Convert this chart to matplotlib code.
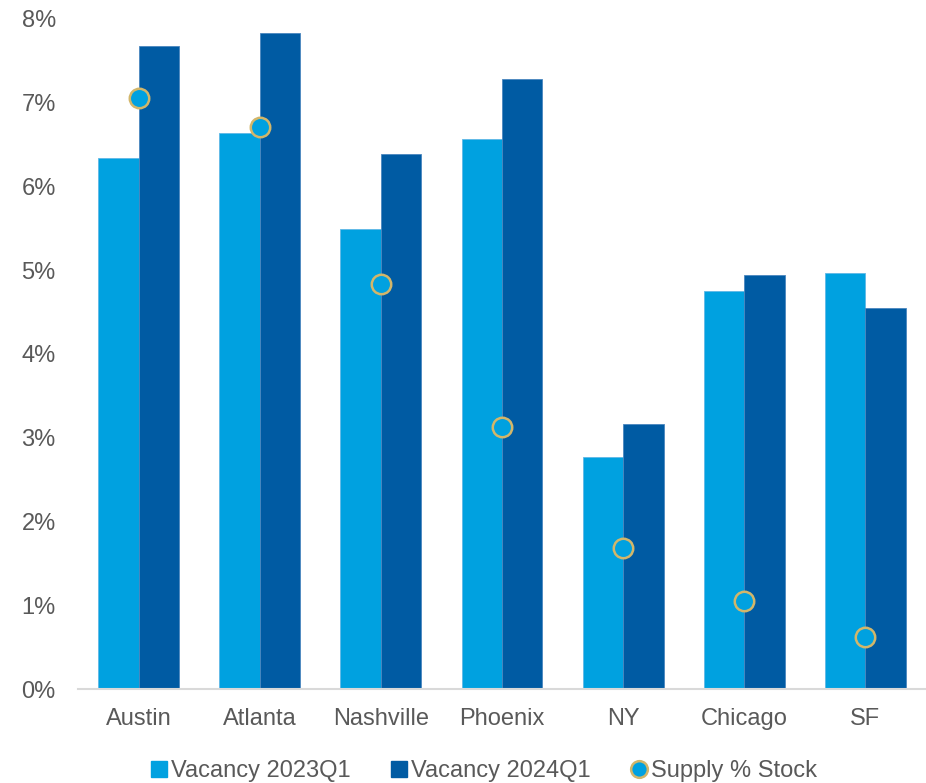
import matplotlib
matplotlib.use("Agg")
import matplotlib.pyplot as plt
import numpy as np
from matplotlib.lines import Line2D
from matplotlib.ticker import FuncFormatter

cities = ["Austin", "Atlanta", "Nashville", "Phoenix", "NY", "Chicago", "SF"]
vac_2023 = [6.34, 6.64, 5.49, 6.57, 2.77, 4.75, 4.97]
vac_2024 = [7.68, 7.83, 6.39, 7.28, 3.16, 4.94, 4.55]
supply = [7.06, 6.71, 4.84, 3.13, 1.68, 1.05, 0.62]
series_labels = ["Vacancy 2023Q1", "Vacancy 2024Q1", "Supply % Stock"]

c_light = "#00a1e0"
c_dark = "#005ba3"
c_edge = "#d2b66a"
c_text = "#595959"

plt.rcParams["font.family"] = ["Liberation Sans", "DejaVu Sans"]

fig = plt.figure(figsize=(9.26, 7.83), dpi=100)
ax = fig.add_axes([78/926, 1-689/783, 848/926, 670/783])

x = np.arange(len(cities))
w = 1/3
ax.bar(x - w/2, vac_2023, width=w, color=c_light, edgecolor="#5fb8e6", linewidth=0.6, zorder=2)
ax.bar(x + w/2, vac_2024, width=w, color=c_dark, edgecolor="#4a86bf", linewidth=0.6, zorder=2)
ax.plot(x, supply, linestyle="none", marker="o", markersize=14, markerfacecolor=c_light,
        markeredgecolor=c_edge, markeredgewidth=1.8, zorder=3)

ax.set_xlim(-0.5, len(cities) - 0.5)
ax.set_ylim(0, 8)
ax.set_yticks(range(0, 9))
ax.yaxis.set_major_formatter(FuncFormatter(lambda v, p: f"{int(v)}%"))
ax.set_xticks(x)
ax.set_xticklabels(cities)
ax.tick_params(axis="both", length=0, labelsize=17, colors=c_text)
ax.tick_params(axis="y", pad=16)
ax.tick_params(axis="x", pad=14)
for s in ["top", "right", "left"]:
    ax.spines[s].set_visible(False)
ax.spines["bottom"].set_color("#d9d9d9")
ax.spines["bottom"].set_linewidth(1.5)

handles = [
    Line2D([], [], linestyle="none", marker="s", markersize=12, markerfacecolor=c_light, markeredgecolor=c_light),
    Line2D([], [], linestyle="none", marker="s", markersize=12, markerfacecolor=c_dark, markeredgecolor=c_dark),
    Line2D([], [], linestyle="none", marker="o", markersize=12, markerfacecolor=c_light,
           markeredgecolor=c_edge, markeredgewidth=1.8),
]
fig.legend(handles, series_labels, loc="center", bbox_to_anchor=(482/926, 1-771/783), ncol=3,
           frameon=False, fontsize=17, labelcolor=c_text, handletextpad=0.0, columnspacing=1.55,
           handlelength=1.0)

fig.savefig("out.png", dpi=100)
